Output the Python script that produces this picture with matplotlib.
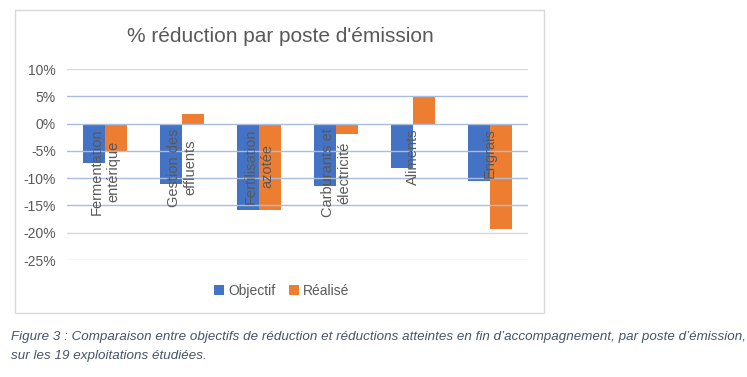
import numpy as np
import matplotlib
matplotlib.use("Agg")
import matplotlib.pyplot as plt
from matplotlib.patches import Rectangle

# data
categories = ["Fermentation\nentérique", "Gestion des\neffluents", "Fertilisation\nazotée",
              "Carburants et\nélectricité", "Aliments", "Engrais"]
objectif = [-7.3, -11.0, -15.8, -11.5, -8.2, -10.6]
realise = [-5.2, 1.8, -15.8, -1.9, 4.8, -19.4]
yticks = [10, 5, 0, -5, -10, -15, -20, -25]

blue = "#4472C4"
orange = "#ED7D31"
grey_txt = "#595959"

plt.rcParams['font.family'] = ['Liberation Sans', 'DejaVu Sans']

fig = plt.figure(figsize=(7.47, 3.77), dpi=100)
fig.patch.set_facecolor("white")

# chart frame
fig.add_artist(Rectangle((15/747, 1-313/377), (544-15)/747, (313-10)/377,
                         transform=fig.transFigure, fill=False,
                         edgecolor="#d9d9d9", linewidth=1.0))

ax = fig.add_axes([67/747, 1-260/377, (528-67)/747, (260-69)/377])
x = np.arange(len(categories))
w = 0.286
ax.bar(x - w/2, objectif, w, color=blue, label="Objectif", zorder=2)
ax.bar(x + w/2, realise, w, color=orange, label="Réalisé", zorder=2)

ax.set_xlim(-0.5, len(categories) - 0.5)
ax.set_ylim(-25, 10)
ax.set_yticks(yticks)
ax.set_yticklabels(["%d%%" % v for v in yticks], color=grey_txt, fontsize=10)
ax.tick_params(axis="y", length=0, pad=8)
ax.set_xticks([])
for s in ax.spines.values():
    s.set_visible(False)

# gridlines (bluish in the middle band, as in the picture)
for v in yticks:
    c = "#a9bde0" if -15 <= v <= 5 else "#d9d9d9"
    ax.axhline(v, color=c, linewidth=1.0, zorder=3 if -15 <= v <= 5 else 1)

# category labels drawn inside the plot, rotated
for xi, lab in zip(x, categories):
    ax.text(xi, -0.9, lab, rotation=90, ha="center", va="top",
            color=grey_txt, fontsize=10.5, linespacing=1.25, zorder=4)

fig.text(280/747, 1-37/377, "% réduction par poste d'émission",
         ha="center", va="center", fontsize=15, color=grey_txt)

fig.legend(loc="center", bbox_to_anchor=(282/747, 1-291/377), ncol=2,
           frameon=False, fontsize=10, handlelength=0.7, handleheight=0.7,
           handletextpad=0.3, columnspacing=1.0, labelcolor=grey_txt)

cap_color = "#44546A"
fig.text(11/747, 1-337/377,
         "Figure 3 : Comparaison entre objectifs de réduction et réductions atteintes en fin d’accompagnement, par poste d’émission,",
         ha="left", va="center", fontsize=9.6, style="italic", color=cap_color)
fig.text(11/747, 1-356/377, "sur les 19 exploitations étudiées.",
         ha="left", va="center", fontsize=9.6, style="italic", color=cap_color)

fig.savefig("out.png", dpi=100)
